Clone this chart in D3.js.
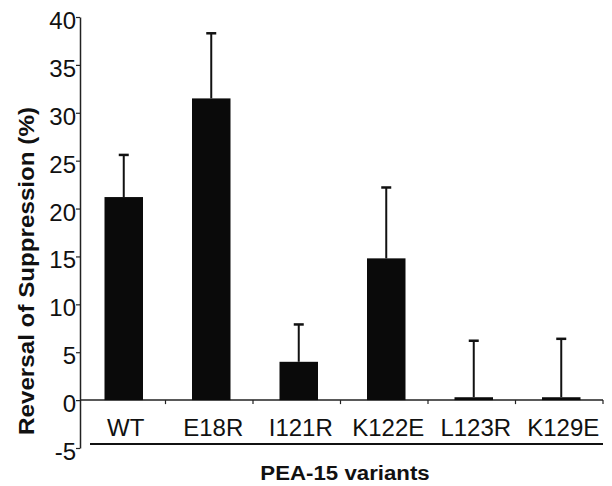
<!DOCTYPE html>
<html>
<head>
<meta charset="utf-8">
<script src="https://cdn.jsdelivr.net/npm/d3@7.9.0/dist/d3.min.js"></script>
<style>
    body { margin: 0; background: #fff; }
    text { font-family: "Liberation Sans", Arial, sans-serif; fill: #111; }
</style>
</head>
<body>
<div id="chart"></div>
<script>
const variants = ['WT', 'E18R', 'I121R', 'K122E', 'L123R', 'K129E'];
const reversal = [21.2, 31.5, 4.0, 14.8, 0.3, 0.3];
const errorTop = [25.6, 38.3, 7.9, 22.2, 6.2, 6.4];
const yTicks = [-5, 0, 5, 10, 15, 20, 25, 30, 35, 40];

const width = 612;
const height = 486;

const svg = d3.select('#chart')
    .append('svg')
    .attr('width', width)
    .attr('height', height);

const xScale = d3.scaleBand()
    .domain(variants)
    .range([80, 605])
    .paddingInner(0.56)
    .paddingOuter(0.28);

const yScale = d3.scaleLinear()
    .domain([-5, 40])
    .range([448, 17]);

const rows = variants.map((v, i) => ({ name: v, value: reversal[i], err: errorTop[i] }));

// y axis
const yAxis = svg.append('g')
    .attr('transform', `translate(${xScale.range()[0]}, 0)`)
    .call(d3.axisLeft(yScale)
        .tickValues(yTicks)
        .tickFormat((d) => String(d))
        .tickSize(4)
        .tickSizeOuter(0)
        .tickPadding(0));
yAxis.select('.domain').attr('stroke', '#222').attr('stroke-width', 1.5);
yAxis.selectAll('.tick line').attr('stroke', '#222').attr('stroke-width', 1.2);
yAxis.selectAll('.tick text')
    .attr('dy', '0.48em')
    .style('font-size', '24px')
    .style('font-family', '"Liberation Sans", Arial, sans-serif')
    .attr('fill', '#111');

// x axis at zero, ticks at category boundaries
const y0 = yScale(0);
svg.append('line')
    .attr('x1', xScale.range()[0])
    .attr('x2', xScale.range()[1] - 2)
    .attr('y1', y0)
    .attr('y2', y0)
    .attr('stroke', '#222')
    .attr('stroke-width', 1.5);

const bounds = d3.range(1, variants.length + 1).map((i) => xScale.range()[0] + i * xScale.step());
svg.append('g')
    .selectAll('line')
    .data(bounds)
    .join('line')
    .attr('x1', (d) => d - 2)
    .attr('x2', (d) => d - 2)
    .attr('y1', y0)
    .attr('y2', y0 + 4)
    .attr('stroke', '#222')
    .attr('stroke-width', 1.2);

// bars
svg.append('g')
    .selectAll('rect')
    .data(rows)
    .join('rect')
    .attr('x', (d) => xScale(d.name))
    .attr('y', (d) => yScale(d.value))
    .attr('width', xScale.bandwidth())
    .attr('height', (d) => y0 - yScale(d.value))
    .attr('fill', '#0a0a0a');

// error bars (upper only)
const errs = svg.append('g')
    .selectAll('g')
    .data(rows)
    .join('g')
    .attr('transform', (d) => `translate(${xScale(d.name) + xScale.bandwidth() / 2}, 0)`);

errs.append('line')
    .attr('y1', (d) => yScale(d.value))
    .attr('y2', (d) => yScale(d.err))
    .attr('stroke', '#111')
    .attr('stroke-width', 2);

errs.append('line')
    .attr('x1', -5)
    .attr('x2', 5)
    .attr('y1', (d) => yScale(d.err))
    .attr('y2', (d) => yScale(d.err))
    .attr('stroke', '#111')
    .attr('stroke-width', 2.5);

// category labels
svg.append('g')
    .selectAll('text')
    .data(variants)
    .join('text')
    .attr('x', (d) => xScale(d) + xScale.bandwidth() / 2 + 2)
    .attr('y', 436)
    .attr('text-anchor', 'middle')
    .style('font-size', '24px')
    .text((d) => d);

// underline below categories
svg.append('line')
    .attr('x1', 90)
    .attr('x2', xScale.range()[1] - 2)
    .attr('y1', 444)
    .attr('y2', 444)
    .attr('stroke', '#111')
    .attr('stroke-width', 2);

// axis titles
svg.append('text')
    .attr('transform', 'translate(345, 480) scale(1.06, 1)')
    .attr('text-anchor', 'middle')
    .style('font-size', '21px')
    .style('font-weight', 'bold')
    .text('PEA-15 variants');

svg.append('text')
    .attr('transform', 'translate(34, 271) rotate(-90) scale(1.1, 1)')
    .attr('text-anchor', 'middle')
    .style('font-size', '22px')
    .style('font-weight', 'bold')
    .text('Reversal of Suppression (%)');
</script>
</body>
</html>
